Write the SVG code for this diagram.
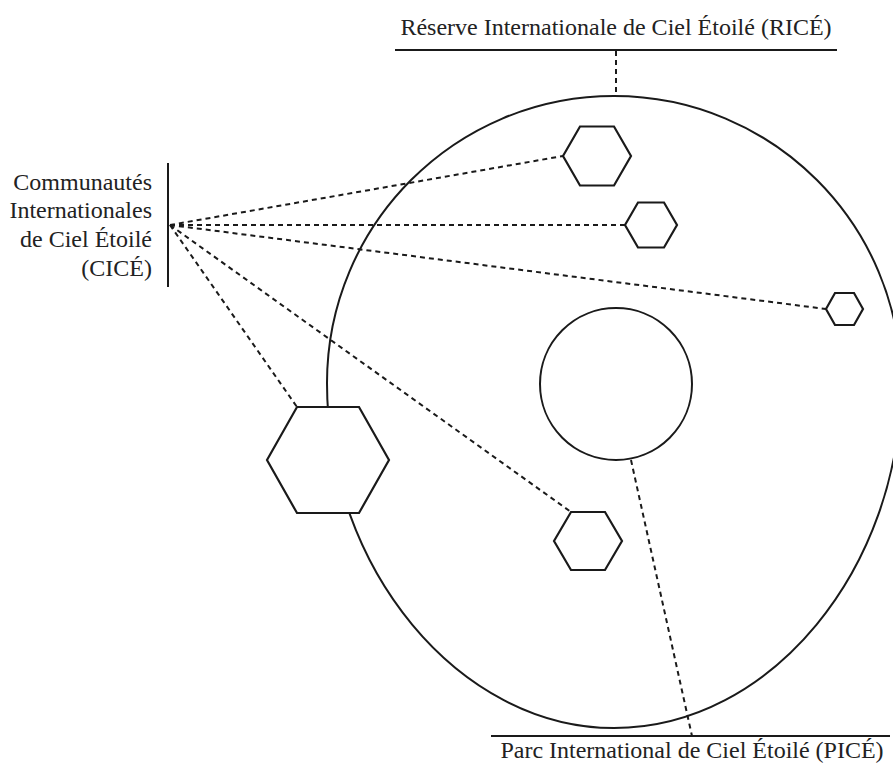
<svg xmlns="http://www.w3.org/2000/svg" width="893" height="764" viewBox="0 0 893 764">
<style>
.s{fill:none;stroke:#1a1a1a;stroke-width:2}
.d{fill:none;stroke:#1a1a1a;stroke-width:2;stroke-dasharray:5 4}
.hx{fill:#fff;stroke:#1a1a1a;stroke-width:2.2;stroke-linejoin:miter}
.t{font-family:"Liberation Serif","Times New Roman",serif;font-size:24px;fill:#222}
</style>
<rect width="893" height="764" fill="#fff"/>
<g id="reserve">
<path class="s" d="M614 96 C772.5 96 901 224.5 901 383 C901 568 771 728 614 728 C459 728 327 568 327 383 C327 224.5 455.5 96 614 96 Z"/>
</g>
<g id="parc">
<circle class="s" cx="616" cy="384" r="76"/>
</g>
<g id="connectors">
<line class="d" x1="170" y1="225" x2="563" y2="156"/>
<line class="d" x1="170" y1="225" x2="625" y2="225"/>
<line class="d" x1="170" y1="225" x2="826" y2="309"/>
<line class="d" x1="170" y1="225" x2="297" y2="407"/>
<line class="d" x1="170" y1="225" x2="571" y2="512"/>
<line class="d" x1="616" y1="51" x2="616" y2="96"/>
<line class="d" x1="631" y1="460" x2="692" y2="736"/>
</g>
<g id="hex1"><polygon class="hx" points="563,156 580,126.5 614,126.5 631,156 614,185.5 580,185.5"/></g>
<g id="hex2"><polygon class="hx" points="625,225 638,202.5 664,202.5 677,225 664,247.5 638,247.5"/></g>
<g id="hex3"><polygon class="hx" points="826,309 835,293 854,293 863,309 854,325 835,325"/></g>
<g id="hex4"><polygon class="hx" points="267,460 297,407 359,407 389,460 359,513 297,513"/></g>
<g id="hex5"><polygon class="hx" points="554,541 571,512 605,512 622,541 605,570 571,570"/></g>
<g id="label-rice">
<text class="t" x="616" y="35" text-anchor="middle">Réserve Internationale de Ciel Étoilé (RICÉ)</text>
<line class="s" x1="395" y1="50" x2="837" y2="50"/>
</g>
<g id="label-cice">
<text class="t" text-anchor="end"><tspan x="152" y="190">Communautés</tspan><tspan x="152" y="218">Internationales</tspan><tspan x="152" y="247">de Ciel Étoilé</tspan><tspan x="152" y="276">(CICÉ)</tspan></text>
<line class="s" x1="168" y1="163" x2="168" y2="287"/>
</g>
<g id="label-pice">
<line class="s" x1="491" y1="736" x2="890" y2="736"/>
<text class="t" x="692" y="758" text-anchor="middle">Parc International de Ciel Étoilé (PICÉ)</text>
</g>
</svg>
